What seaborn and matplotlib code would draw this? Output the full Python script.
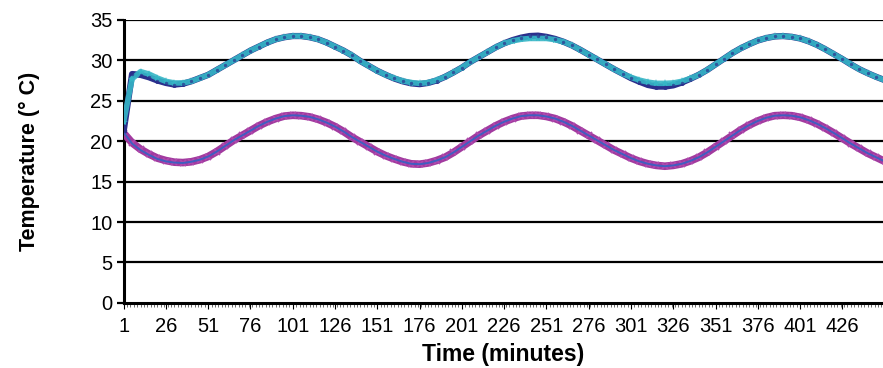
import numpy as np
import pandas as pd
import matplotlib
matplotlib.use("Agg")
import matplotlib.pyplot as plt
import seaborn as sns

# sample times (minutes)
minutes = list(range(1, 452, 5))

# upper pair of sensors
upper_navy = [21.2, 28.3, 28.2, 27.9, 27.5, 27.2, 27.0, 27.1, 27.4, 27.8,
              28.2, 28.8, 29.4, 30.0, 30.6, 31.2, 31.7, 32.2, 32.6, 32.85,
              33.0, 33.0, 32.85, 32.6, 32.2, 31.7, 31.2, 30.6, 29.9, 29.3,
              28.7, 28.2, 27.75, 27.4, 27.15, 27.05, 27.2, 27.5, 27.95, 28.5,
              29.1, 29.8, 30.4, 31.0, 31.6, 32.1, 32.5, 32.8, 33.0, 33.05,
              32.9, 32.65, 32.3, 31.85, 31.3, 30.7, 30.1, 29.5, 28.9, 28.35,
              27.8, 27.35, 26.95, 26.75, 26.75, 26.9, 27.25, 27.7, 28.2, 28.8,
              29.5, 30.2, 30.9, 31.5, 32.0, 32.45, 32.75, 32.95, 33.0, 32.9,
              32.7, 32.35, 31.9, 31.35, 30.75, 30.15, 29.5, 28.9, 28.4, 27.95,
              27.55]
upper_cyan = [22.4, 27.7, 28.6, 28.3, 27.8, 27.4, 27.2, 27.2, 27.4, 27.8,
              28.2, 28.8, 29.4, 30.0, 30.6, 31.2, 31.7, 32.2, 32.6, 32.85,
              33.0, 33.0, 32.85, 32.6, 32.2, 31.7, 31.2, 30.6, 29.9, 29.3,
              28.7, 28.2, 27.8, 27.45, 27.25, 27.15, 27.25, 27.55, 27.95, 28.5,
              29.1, 29.8, 30.4, 31.0, 31.6, 32.1, 32.4, 32.6, 32.7, 32.7,
              32.7, 32.55, 32.3, 31.85, 31.3, 30.7, 30.1, 29.5, 28.9, 28.35,
              27.9, 27.55, 27.3, 27.15, 27.15, 27.2, 27.4, 27.75, 28.2, 28.8,
              29.5, 30.2, 30.9, 31.5, 32.0, 32.45, 32.75, 32.95, 33.0, 32.9,
              32.7, 32.35, 31.9, 31.35, 30.75, 30.15, 29.5, 28.9, 28.4, 27.95,
              27.55]

# lower pair of sensors
lower_magenta = [21.0, 19.8, 19.0, 18.4, 17.9, 17.6, 17.4, 17.35, 17.45, 17.7,
                 18.1, 18.7, 19.4, 20.1, 20.7, 21.3, 21.9, 22.4, 22.8, 23.1,
                 23.2, 23.15, 23.0, 22.7, 22.3, 21.8, 21.2, 20.5, 19.9, 19.3,
                 18.7, 18.2, 17.8, 17.45, 17.2, 17.15, 17.3, 17.6, 18.0, 18.6,
                 19.3, 20.0, 20.7, 21.3, 21.9, 22.4, 22.8, 23.1, 23.2, 23.2,
                 23.05, 22.8, 22.4, 21.9, 21.3, 20.7, 20.1, 19.5, 18.9, 18.4,
                 17.9, 17.5, 17.2, 17.0, 16.9, 17.0, 17.2, 17.55, 18.0, 18.6,
                 19.3, 20.0, 20.7, 21.4, 22.0, 22.5, 22.9, 23.15, 23.2, 23.15,
                 22.95, 22.6, 22.15, 21.6, 21.0, 20.35, 19.7, 19.1, 18.5, 18.0,
                 17.5]
lower_blue = [21.1, 19.7, 18.9, 18.3, 17.8, 17.5, 17.35, 17.3, 17.45, 17.7,
              18.1, 18.7, 19.4, 20.1, 20.7, 21.3, 21.9, 22.4, 22.8, 23.1,
              23.2, 23.15, 23.0, 22.7, 22.3, 21.8, 21.2, 20.5, 19.9, 19.3,
              18.7, 18.2, 17.8, 17.45, 17.2, 17.15, 17.3, 17.6, 18.0, 18.6,
              19.3, 20.0, 20.7, 21.3, 21.9, 22.4, 22.8, 23.1, 23.2, 23.2,
              23.05, 22.8, 22.4, 21.9, 21.3, 20.7, 20.1, 19.5, 18.9, 18.4,
              17.9, 17.5, 17.2, 17.0, 16.9, 17.0, 17.2, 17.55, 18.0, 18.6,
              19.3, 20.0, 20.7, 21.4, 22.0, 22.5, 22.9, 23.15, 23.2, 23.15,
              22.95, 22.6, 22.15, 21.6, 21.0, 20.35, 19.7, 19.1, 18.5, 18.0,
              17.5]

x_tick_labels = list(range(1, 427, 25))
y_ticks = list(range(0, 36, 5))

sns.set_style("white")
plt.rcParams['font.family'] = ['Liberation Sans', 'DejaVu Sans']

fig = plt.figure(figsize=(8.83, 3.68), dpi=100)
ax = fig.add_axes([0.140, 0.177, 0.860, 0.769])

# horizontal gridlines (Excel style)
for yv in y_ticks[1:]:
    ax.axhline(yv, color='black', lw=1.6, zorder=1)

sns.lineplot(x=minutes, y=lower_magenta, ax=ax, color='#A23A9F', lw=5.5,
             marker='x', markersize=5, markeredgewidth=1.3,
             markeredgecolor='#B04AAE', zorder=3)
sns.lineplot(x=minutes, y=lower_blue, ax=ax, color='#3F5FC0', lw=1.4, zorder=4)

sns.lineplot(x=minutes, y=upper_navy, ax=ax, color='#2B2F8C', lw=4.5,
             marker='o', markersize=3.5, markeredgewidth=0, zorder=3)
sns.lineplot(x=minutes, y=upper_cyan, ax=ax, color='#36B6C6', lw=4.0,
             marker='*', markersize=6, markeredgewidth=0, alpha=0.9, zorder=4)
sns.lineplot(x=minutes, y=upper_navy, ax=ax, color='#2B2F8C', lw=0,
             marker='o', markersize=2.5, markeredgewidth=0, alpha=0.7, zorder=5)

ax.set_xlim(1, 450)
ax.set_ylim(0, 35)
ax.set_yticks(y_ticks)
ax.set_xticks(x_tick_labels)
ax.set_xticklabels([str(v) for v in x_tick_labels])
ax.set_xticks(list(range(1, 451, 2)), minor=True)

for side in ['top', 'right']:
    ax.spines[side].set_visible(False)
for side in ['left', 'bottom']:
    ax.spines[side].set_color('black')
    ax.spines[side].set_linewidth(2.2)

ax.tick_params(axis='y', direction='out', length=5, width=1.6, labelsize=14.5,
               left=True, pad=3, color='black', labelcolor='black')
ax.tick_params(axis='x', which='major', direction='out', length=4, width=0.8,
               labelsize=14.5, bottom=True, pad=6, color='black',
               labelcolor='black')
ax.tick_params(axis='x', which='minor', direction='out', length=3, width=0.6,
               color='#555555', bottom=True)

ax.set_xlabel("Time (minutes)", fontsize=16.5, fontweight='bold', labelpad=5,
              color='black')
ax.set_ylabel("Temperature (° C)", fontsize=15.5, fontweight='bold', labelpad=36,
              color='black')

fig.savefig("out.png", dpi=100)
